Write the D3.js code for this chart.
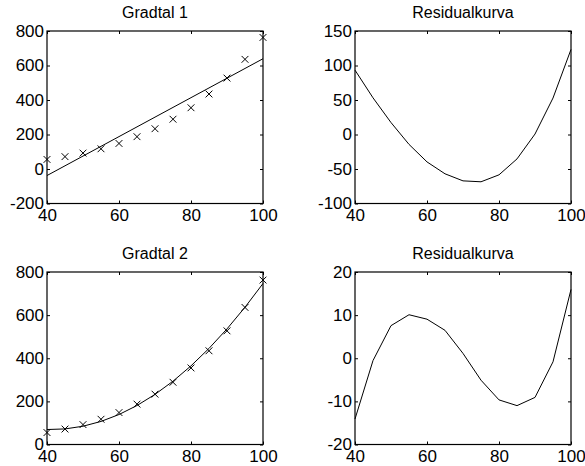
<!DOCTYPE html>
<html>
<head>
<meta charset="utf-8">
<script src="https://cdn.jsdelivr.net/npm/d3@7"></script>
<style>
  html, body { margin: 0; padding: 0; background: #fff; }
  svg { display: block; }
  text { font-family: "Liberation Sans", Arial, Helvetica, sans-serif; fill: #000; }
</style>
</head>
<body>
<svg id="chart" width="585" height="466"></svg>
<script>
// Measurements
const xData = [40, 45, 50, 55, 60, 65, 70, 75, 80, 85, 90, 95, 100];
const yData = [55.4, 71.7, 92.3, 117.1, 148.1, 187.3, 233.5, 288.6, 355.1, 434.6, 527.1, 635.7, 762.6];

// Axis ticks
const xTicks = [40, 60, 80, 100];
const fit1Ticks = [-200, 0, 200, 400, 600, 800];
const res1Ticks = [-100, -50, 0, 50, 100, 150];
const fit2Ticks = [0, 200, 400, 600, 800];
const res2Ticks = [-20, -10, 0, 10, 20];

// Panel titles
const titles = ["Gradtal 1", "Residualkurva", "Gradtal 2", "Residualkurva"];

// Least-squares polynomial fit (normal equations, Gauss-Jordan elimination)
function polyfit(xs, ys, deg) {
  const n = deg + 1;
  const A = Array.from({length: n}, () => new Array(n + 1).fill(0));
  for (let k = 0; k < xs.length; k++) {
    const pws = [];
    for (let i = 0; i < 2 * n; i++) pws.push(Math.pow(xs[k], i));
    for (let r = 0; r < n; r++) {
      for (let c = 0; c < n; c++) A[r][c] += pws[r + c];
      A[r][n] += ys[k] * pws[r];
    }
  }
  for (let i = 0; i < n; i++) {
    let p = i;
    for (let r = i + 1; r < n; r++) {
      if (Math.abs(A[r][i]) > Math.abs(A[p][i])) p = r;
    }
    const tmp = A[i]; A[i] = A[p]; A[p] = tmp;
    for (let r = 0; r < n; r++) {
      if (r === i) continue;
      const f = A[r][i] / A[i][i];
      for (let c = i; c <= n; c++) A[r][c] -= f * A[i][c];
    }
  }
  return A.map((row, i) => row[n] / row[i]);
}
const polyval = (coef, x) => coef.reduce((s, c, i) => s + c * Math.pow(x, i), 0);

const c1 = polyfit(xData, yData, 1);
const c2 = polyfit(xData, yData, 2);
const fit1 = xData.map(x => polyval(c1, x));
const fit2 = xData.map(x => polyval(c2, x));
const res1 = yData.map((y, i) => y - fit1[i]);
const res2 = yData.map((y, i) => y - fit2[i]);

const svg = d3.select("#chart");

const cols = [47, 355];
const rows = [31, 272];
const pw = 216, ph = 172.5;
const fmt = v => String(v);

function panel(left, top, title, yDomain, yTicks, series) {
  const g = svg.append("g").attr("transform", `translate(${left},${top})`);
  const x = d3.scaleLinear().domain([40, 100]).range([0, pw]);
  const y = d3.scaleLinear().domain(yDomain).range([ph, 0]);

  g.append("text")
    .attr("x", pw / 2).attr("y", -12.7)
    .attr("text-anchor", "middle")
    .style("font-size", "16px")
    .text(title);

  const styleAxis = sel => {
    sel.select(".domain").remove();
    sel.selectAll(".tick line").attr("stroke", "#000").attr("stroke-width", 1);
    sel.selectAll(".tick text")
      .style("font-family", '"Liberation Sans", Arial, sans-serif')
      .style("font-size", "17px")
      .attr("fill", "#000");
  };

  g.append("g").attr("transform", `translate(0,${ph})`)
    .call(d3.axisBottom(x).tickValues(xTicks).tickFormat(fmt).tickSize(-3).tickPadding(3))
    .call(styleAxis)
    .selectAll(".tick text").attr("dy", "0.71em").attr("y", 5);
  g.append("g")
    .call(d3.axisTop(x).tickValues(xTicks).tickSize(-3).tickFormat(""))
    .call(styleAxis);
  g.append("g")
    .call(d3.axisLeft(y).tickValues(yTicks).tickFormat(fmt).tickSize(-3).tickPadding(3))
    .call(styleAxis);
  g.append("g").attr("transform", `translate(${pw},0)`)
    .call(d3.axisRight(y).tickValues(yTicks).tickSize(-3).tickFormat(""))
    .call(styleAxis);

  const line = d3.line().x(d => x(d[0])).y(d => y(d[1]));
  series.forEach(s => {
    if (s.type === "line") {
      g.append("path")
        .attr("d", line(xData.map((xv, i) => [xv, s.values[i]])))
        .attr("fill", "none").attr("stroke", "#000").attr("stroke-width", 1);
    } else {
      const r = 3.4;
      const m = g.append("g");
      xData.forEach((xv, i) => {
        const cx = x(xv), cy = y(s.values[i]);
        m.append("path")
          .attr("d", `M${cx - r},${cy - r}L${cx + r},${cy + r}M${cx - r},${cy + r}L${cx + r},${cy - r}`)
          .attr("stroke", "#000").attr("stroke-width", 1).attr("fill", "none");
      });
    }
  });

  g.append("rect")
    .attr("x", 0).attr("y", 0).attr("width", pw).attr("height", ph)
    .attr("fill", "none").attr("stroke", "#000").attr("stroke-width", 1.2);
}

panel(cols[0], rows[0], titles[0], [-200, 800], fit1Ticks,
  [{type: "marker", values: yData}, {type: "line", values: fit1}]);
panel(cols[1], rows[0], titles[1], [-100, 150], res1Ticks,
  [{type: "line", values: res1}]);
panel(cols[0], rows[1], titles[2], [0, 800], fit2Ticks,
  [{type: "marker", values: yData}, {type: "line", values: fit2}]);
panel(cols[1], rows[1], titles[3], [-20, 20], res2Ticks,
  [{type: "line", values: res2}]);
</script>
</body>
</html>
